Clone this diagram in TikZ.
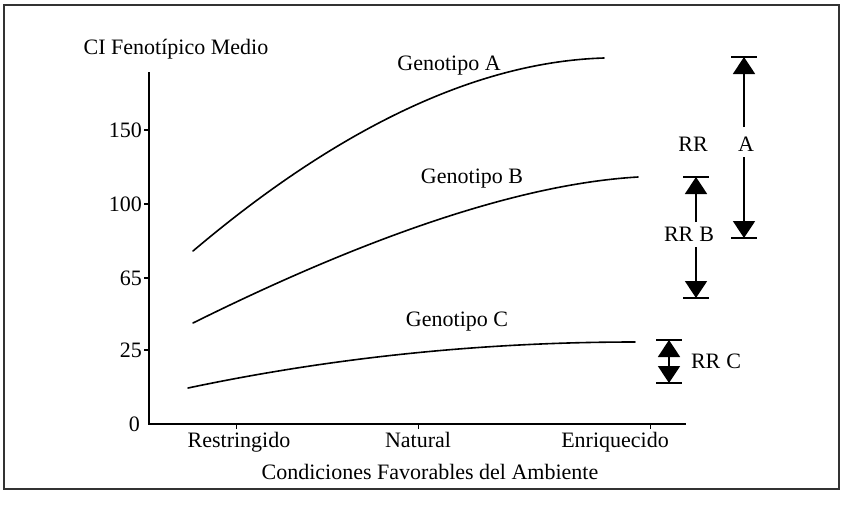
\documentclass[tikz,border=0pt]{standalone}
\usepackage{fontspec}
\setmainfont{Liberation Serif}
\usetikzlibrary{arrows.meta}
\begin{document}
\begin{tikzpicture}[x=1pt,y=-1pt,
  lbl/.style={inner sep=0pt,font=\fontsize{22}{25}\selectfont},
  ticklbl/.style={lbl,anchor=east},
  curve/.style={line width=1.6pt,line cap=round},
  axisline/.style={line width=1.8pt},
  rrline/.style={line width=1.8pt,-{Triangle[width=22pt,length=17pt]}},
  rrbar/.style={line width=1.6pt},
  frameline/.style={line width=1.2pt,draw=black!80}]
\useasboundingbox (0,0) rectangle (842,507);
\draw[frameline] (4,5) rectangle (839,489);
% axes
\coordinate (O) at (149,424);
\coordinate (Ytop) at (149,72);
\coordinate (Xend) at (686,424);
\draw[axisline] (Ytop) -- (O) -- (Xend);
% y ticks
\foreach \yy/\t in {130/150,204/100,278/65,350/25}{
  \draw[line width=1.2pt] (144,\yy) -- (149,\yy);
  \node[ticklbl] at (142,\yy) {\t};
}
\node[ticklbl] at (140,424) {0};
% x ticks
\foreach \xx in {236,418,650}{\draw[line width=1pt] (\xx,424) -- (\xx,429);}
\node[lbl] (ylab) at (176,49) {CI Fenotípico Medio};
\node[lbl,anchor=base] (xr) at (239,447) {Restringido};
\node[lbl,anchor=base] (xn) at (418,447) {Natural};
\node[lbl,anchor=base] (xe) at (615,447) {Enriquecido};
\node[lbl,anchor=base] (xt) at (430,479) {Condiciones Favorables del Ambiente};
% curves
\draw[curve] (193,251) .. controls (330,135) and (470,62) .. (604,58);
\draw[curve] (193,323) .. controls (330,255) and (500,185) .. (638,177);
\draw[curve] (188,388) .. controls (330,358) and (480,342) .. (635,342);
\node[lbl] (gA) at (449,66) {Genotipo A};
\node[lbl] (gB) at (472,179) {Genotipo B};
\node[lbl] (gC) at (457,322) {Genotipo C};
% RR A
\coordinate (At) at (744,57);
\coordinate (Ab) at (744,238);
\coordinate (Am1) at (744,127);
\coordinate (Am2) at (744,157);
\node[lbl] (Alab) at (746,144) {A};
\node[lbl] (RRA) at (693,144) {RR};
\draw[rrline] (Am1) -- (At);
\draw[rrline] (Am2) -- (Ab);
\draw[rrbar] ([xshift=-13pt]At) -- ([xshift=13pt]At);
\draw[rrbar] ([xshift=-13pt]Ab) -- ([xshift=13pt]Ab);
% RR B
\coordinate (Bt) at (696,177);
\coordinate (Bb) at (696,298);
\coordinate (Bm1) at (696,222);
\coordinate (Bm2) at (696,247);
\node[lbl] (Blab) at (689,234) {RR\hspace{6pt}B};
\draw[rrline] (Bm1) -- (Bt);
\draw[rrline] (Bm2) -- (Bb);
\draw[rrbar] ([xshift=-13pt]Bt) -- ([xshift=13pt]Bt);
\draw[rrbar] ([xshift=-13pt]Bb) -- ([xshift=13pt]Bb);
% RR C
\coordinate (Ct) at (669,340);
\coordinate (Cb) at (669,383);
\node[lbl] (Clab) at (716,361) {RR\hspace{6pt}C};
\draw[line width=1.8pt,{Triangle[width=22pt,length=17pt]}-{Triangle[width=22pt,length=17pt]}] (Ct) -- (Cb);
\draw[rrbar] ([xshift=-13pt]Ct) -- ([xshift=13pt]Ct);
\draw[rrbar] ([xshift=-13pt]Cb) -- ([xshift=13pt]Cb);
\end{tikzpicture}
\end{document}
